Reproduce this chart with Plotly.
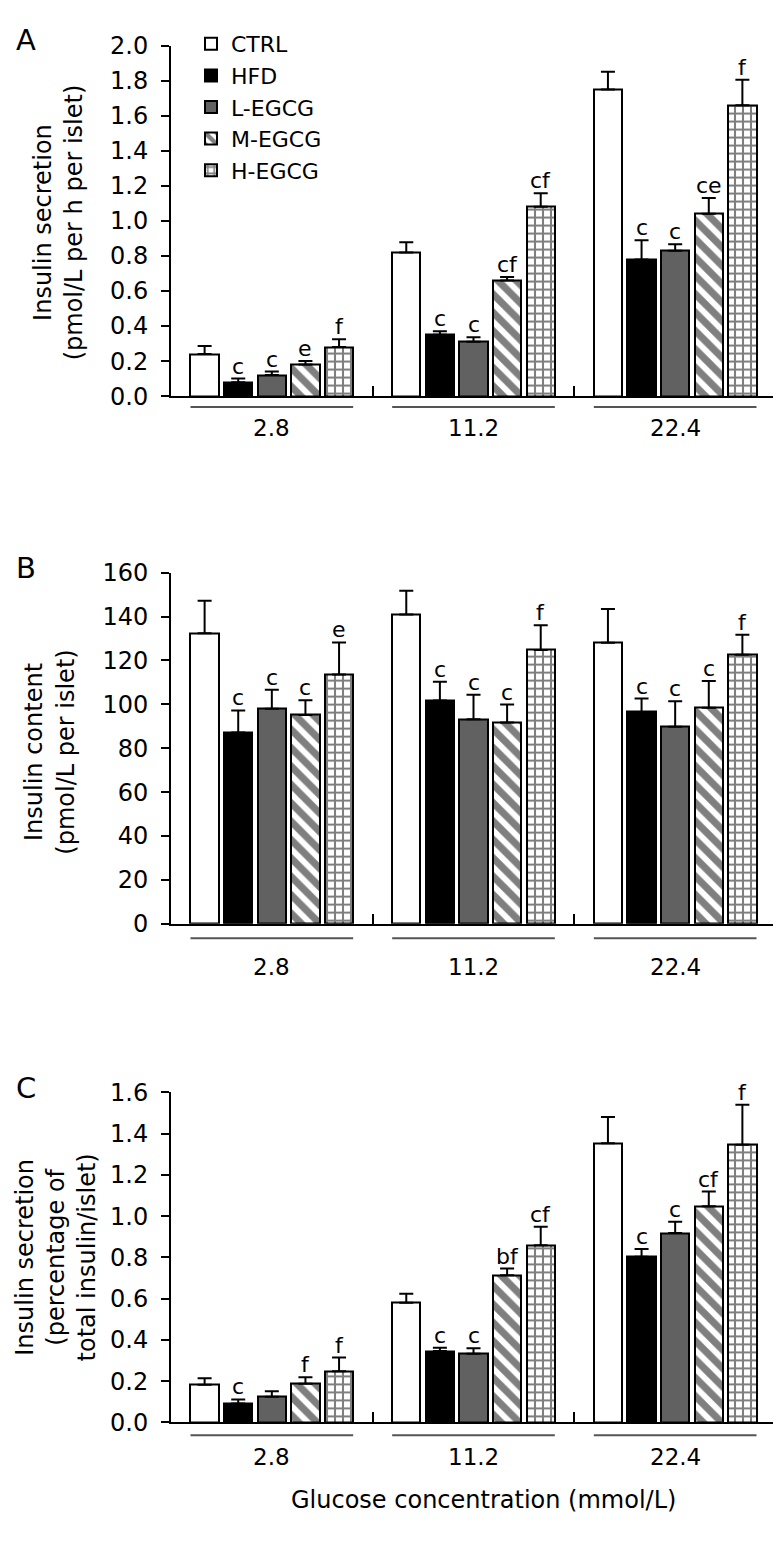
import plotly.graph_objects as go

W, H = 781, 1558
FONT = "DejaVu Sans"

series = ["CTRL", "HFD", "L-EGCG", "M-EGCG", "H-EGCG"]
groups = ["2.8", "11.2", "22.4"]

# ---- Panel A: insulin secretion (pmol/L per h per islet)
a_ctrl = [0.24, 0.82, 1.75]
a_hfd = [0.08, 0.35, 0.78]
a_l = [0.12, 0.31, 0.83]
a_m = [0.18, 0.66, 1.04]
a_h = [0.28, 1.08, 1.66]
a_ctrl_err = [0.046, 0.058, 0.10]
a_hfd_err = [0.02, 0.02, 0.11]
a_l_err = [0.02, 0.026, 0.037]
a_m_err = [0.02, 0.02, 0.09]
a_h_err = [0.045, 0.078, 0.145]
a_sig = [["", "", ""], ["c", "c", "c"], ["c", "c", "c"], ["e", "cf", "ce"], ["f", "cf", "f"]]

# ---- Panel B: insulin content (pmol/L per islet)
b_ctrl = [132.4, 140.9, 128.0]
b_hfd = [87.2, 101.7, 96.5]
b_l = [98.0, 93.2, 89.8]
b_m = [95.1, 91.7, 98.4]
b_h = [113.6, 124.8, 122.6]
b_ctrl_err = [14.8, 10.8, 15.4]
b_hfd_err = [10.0, 8.6, 6.1]
b_l_err = [8.6, 11.2, 11.6]
b_m_err = [6.7, 8.2, 12.2]
b_h_err = [14.6, 11.2, 9.1]
b_sig = [["", "", ""], ["c", "c", "c"], ["c", "c", "c"], ["c", "c", "c"], ["e", "f", "f"]]

# ---- Panel C: insulin secretion (percentage of total insulin/islet)
c_ctrl = [0.182, 0.58, 1.354]
c_hfd = [0.092, 0.346, 0.803]
c_l = [0.124, 0.333, 0.918]
c_m = [0.187, 0.714, 1.048]
c_h = [0.248, 0.859, 1.346]
c_ctrl_err = [0.032, 0.044, 0.127]
c_hfd_err = [0.019, 0.016, 0.038]
c_l_err = [0.027, 0.026, 0.055]
c_m_err = [0.032, 0.032, 0.071]
c_h_err = [0.066, 0.09, 0.194]
c_sig = [["", "", ""], ["c", "c", "c"], ["", "c", "c"], ["f", "bf", "cf"], ["f", "cf", "f"]]

a_tickvals = [0.0, 0.2, 0.4, 0.6, 0.8, 1.0, 1.2, 1.4, 1.6, 1.8, 2.0]
b_tickvals = [0, 20, 40, 60, 80, 100, 120, 140, 160]
c_tickvals = [0.0, 0.2, 0.4, 0.6, 0.8, 1.0, 1.2, 1.4, 1.6]

panels = [
    dict(vals=[a_ctrl, a_hfd, a_l, a_m, a_h],
         errs=[a_ctrl_err, a_hfd_err, a_l_err, a_m_err, a_h_err],
         sig=a_sig, ticks=a_tickvals, fmt=".1f", rng=[0, 2.0],
         px=(24, 381), title="Insulin secretion<br>(pmol/L per h per islet)",
         tx=50, ty=204, letter="A", ly=18, under=392, lab=413),
    dict(vals=[b_ctrl, b_hfd, b_l, b_m, b_h],
         errs=[b_ctrl_err, b_hfd_err, b_l_err, b_m_err, b_h_err],
         sig=b_sig, ticks=b_tickvals, fmt="d", rng=[0, 160],
         px=(560.7, 918.3), title="Insulin content<br>(pmol/L per islet)",
         tx=42, ty=744, letter="B", ly=556, under=933, lab=962),
    dict(vals=[c_ctrl, c_hfd, c_l, c_m, c_h],
         errs=[c_ctrl_err, c_hfd_err, c_l_err, c_m_err, c_h_err],
         sig=c_sig, ticks=c_tickvals, fmt=".1f", rng=[0, 1.6],
         px=(1090, 1426), title="Insulin secretion<br>(percentage of<br>total insulin/islet)",
         tx=48, ty=1258, letter="C", ly=1086, under=1439, lab=1461),
]

styles = [
    dict(color="white", pattern=None),
    dict(color="black", pattern=None),
    dict(color="#616161", pattern=None),
    dict(color="white", pattern=dict(shape="\\", fgcolor="black", bgcolor="white", size=13, solidity=0.55)),
    dict(color="white", pattern=dict(shape="+", fgcolor="black", bgcolor="white", size=8, solidity=0.45)),
]

GROUP_STEP = 6.0
BAR_W = 0.84


def py(p):
    return 1 - p / H


fig = go.Figure()
annotations = []
shapes = []

for pi, pnl in enumerate(panels):
    xa = "x" if pi == 0 else f"x{pi + 1}"
    ya = "y" if pi == 0 else f"y{pi + 1}"
    for si, name in enumerate(series):
        xs = [gi * GROUP_STEP + (si - 2) for gi in range(len(groups))]
        st = styles[si]
        marker = dict(color=st["color"], line=dict(color="black", width=2))
        if st["pattern"]:
            marker["pattern"] = st["pattern"]
        fig.add_trace(go.Bar(
            x=xs, y=pnl["vals"][si], width=BAR_W, name=name,
            legendgroup=name, showlegend=(pi == 0),
            marker=marker, xaxis=xa, yaxis=ya,
            error_y=dict(type="data", symmetric=False, array=pnl["errs"][si],
                         arrayminus=[0] * len(groups), color="black",
                         thickness=2, width=7),
        ))
        for gi in range(len(groups)):
            txt = pnl["sig"][si][gi]
            if txt:
                annotations.append(dict(
                    x=xs[gi], y=pnl["vals"][si][gi] + pnl["errs"][si][gi],
                    xref=xa, yref=ya, text=txt, showarrow=False,
                    yanchor="bottom", yshift=-2,
                    font=dict(family=FONT, size=22, color="black")))
    # group underlines and labels
    for gi, g in enumerate(groups):
        c = gi * GROUP_STEP
        shapes.append(dict(type="line", xref=xa, yref="paper",
                           x0=c - 2 - BAR_W / 2, x1=c + 2 + BAR_W / 2,
                           y0=py(pnl["under"]), y1=py(pnl["under"]),
                           line=dict(color="#555555", width=2)))
        annotations.append(dict(x=c, y=py(pnl["lab"]), xref=xa, yref="paper",
                                text=g, showarrow=False, yanchor="middle",
                                font=dict(family=FONT, size=23, color="black")))
    # y title
    annotations.append(dict(x=pnl["tx"] / W, y=py(pnl["ty"]), xref="paper", yref="paper",
                            text=pnl["title"], textangle=-90, showarrow=False,
                            xanchor="center", yanchor="middle", align="center",
                            font=dict(family=FONT, size=24, color="black")))
    # panel letter
    annotations.append(dict(x=18 / W, y=py(pnl["ly"]), xref="paper", yref="paper",
                            text=pnl["letter"], showarrow=False,
                            xanchor="center", yanchor="middle",
                            font=dict(family=FONT, size=29, color="black")))

annotations.append(dict(x=475 / W, y=py(1505), xref="paper", yref="paper",
                        text="Glucose concentration (mmol/L)", showarrow=False,
                        xanchor="center", yanchor="middle",
                        font=dict(family=FONT, size=24, color="black")))

layout = dict(
    width=W, height=H, margin=dict(l=0, r=0, t=0, b=0),
    paper_bgcolor="white", plot_bgcolor="white",
    barmode="overlay", bargap=0,
    font=dict(family=FONT, size=22, color="black"),
    showlegend=True,
    legend=dict(x=183 / W, y=py(1), xanchor="left", yanchor="top",
                bgcolor="rgba(0,0,0,0)", borderwidth=0, tracegroupgap=0,
                font=dict(family=FONT, size=22, color="black"), itemwidth=30),
    annotations=annotations, shapes=shapes,
)

x0, x1 = 163 / W, 768 / W
for pi, pnl in enumerate(panels):
    xk = "xaxis" if pi == 0 else f"xaxis{pi + 1}"
    yk = "yaxis" if pi == 0 else f"yaxis{pi + 1}"
    xa = "x" if pi == 0 else f"x{pi + 1}"
    ya = "y" if pi == 0 else f"y{pi + 1}"
    layout[xk] = dict(domain=[x0, x1], anchor=ya, range=[-3, 15],
                      showline=True, linecolor="black", linewidth=2,
                      ticks="inside", tickvals=[3, 9, 15], ticklen=10, tickwidth=2,
                      tickcolor="black", showticklabels=False,
                      showgrid=False, zeroline=False, fixedrange=True)
    layout[yk] = dict(domain=[py(pnl["px"][1]), py(pnl["px"][0])], anchor=xa,
                      range=pnl["rng"], tickvals=pnl["ticks"], tickformat=pnl["fmt"],
                      showline=True, linecolor="black", linewidth=2,
                      ticks="outside", ticklen=8, tickwidth=2, tickcolor="black",
                      ticklabelstandoff=8,
                      tickfont=dict(family=FONT, size=24, color="black"),
                      showgrid=False, zeroline=False, fixedrange=True)

fig.update_layout(**layout)
fig.write_html("out.html")
